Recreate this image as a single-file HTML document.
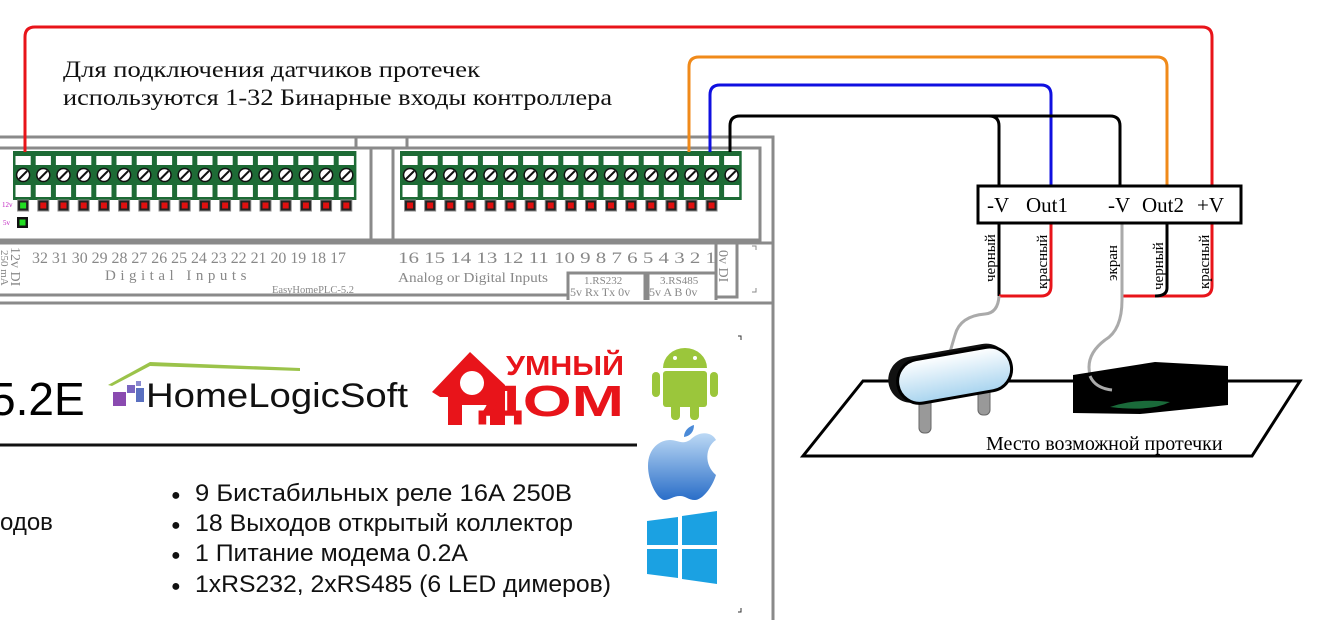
<!DOCTYPE html>
<html><head><meta charset="utf-8"><style>
html,body{margin:0;padding:0;background:#fff;width:1321px;height:620px;overflow:hidden}
svg{display:block}
.s{font-family:"Liberation Serif",serif}
.a{font-family:"Liberation Sans",sans-serif}
</style></head><body>
<svg id="d" width="1321" height="620" viewBox="0 0 1321 620" xmlns="http://www.w3.org/2000/svg">
<g fill="none" stroke="#8a8a8a" stroke-width="3">
<path d="M0 137 H773 V620"/>
<path d="M0 148 H760 V240 H0"/>
<path d="M356 137 V148 M407 137 V148"/>
<path d="M371 148 V240 M393 148 V240"/>
<path d="M0 243 H773 M0 303 H773"/>
<path d="M0 295 H568 M716 295 V298"/>
<path d="M568 300 V273 H645 V300 M648 300 V273 H716 V300"/>
<path d="M716 243 V297 H737 V243"/>
</g>
<path d="M752 246 h4 v4 M752 292 h4 v-4" stroke="#888" fill="none"/>
<g id="blocks"></g>
<g class="s" fill="#888" font-size="16">
<text x="32" y="263" textLength="314" lengthAdjust="spacingAndGlyphs">32 31 30 29 28 27 26 25 24 23 22 21 20 19 18 17</text>
<text x="398" y="263" textLength="318" lengthAdjust="spacingAndGlyphs">16 15 14 13 12 11 10  9   8   7   6   5   4   3   2   1</text>
<text x="105" y="280" font-size="15" letter-spacing="4.5">Digital Inputs</text>
<text x="398" y="282" font-size="14" textLength="150" lengthAdjust="spacingAndGlyphs">Analog or Digital Inputs</text>
<text x="272" y="293" font-size="10.5">EasyHomePLC-5.2</text>
<text x="584" y="284" font-size="11">1.RS232</text>
<text x="570" y="296" font-size="12">5v  Rx  Tx  0v</text>
<text x="660" y="284" font-size="11">3.RS485</text>
<text x="649" y="296" font-size="12">5v   A   B  0v</text>
<text transform="translate(11,247) rotate(90)" font-size="14">12v DI</text>
<text transform="translate(1,250) rotate(90)" font-size="11">250 mA</text>
<text transform="translate(719,250) rotate(90)" font-size="14">0v DI</text>
</g>
<text x="2" y="207" font-size="7" fill="#c020c0" class="s">12v</text>
<text x="3" y="225" font-size="7" fill="#c020c0" class="s">5v</text>
<rect x="17" y="217" width="11" height="11" fill="#111"/><rect x="19.5" y="219.5" width="6" height="6" fill="#2d2"/>
<text x="-10" y="415" class="a" font-size="46">5.2E</text>
<polygon points="108,385 150,362 300,368 300,371 150,366 112,386" fill="#9bc34a"/>
<rect x="113" y="392" width="13" height="14" fill="#8a4ab0"/>
<rect x="127" y="385" width="8" height="8" fill="#7a66c0"/><rect x="136" y="381" width="5" height="5" fill="#8a8ad0"/><rect x="136" y="388" width="8" height="14" fill="#5a70c0"/>
<text x="146" y="407" class="a" font-size="34" textLength="262" lengthAdjust="spacingAndGlyphs" fill="#111">HomeLogicSoft</text>
<polygon points="432,392 470,352 505,385 505,425 490,425 490,405 462,405 462,425 448,425 448,397 440,397" fill="#e8141a"/>
<circle cx="472" cy="383" r="12" fill="#fff"/>
<text x="506" y="375" class="a" font-weight="bold" font-size="28" fill="#e8141a" textLength="118" lengthAdjust="spacingAndGlyphs">УМНЫЙ</text>
<text x="478" y="416" class="a" font-weight="bold" font-size="44" fill="#e8141a" textLength="146" lengthAdjust="spacingAndGlyphs">ДОМ</text>
<line x1="0" y1="445" x2="637" y2="445" stroke="#111" stroke-width="3"/>
<g fill="#9bc63b">
<path d="M663 368 a22 20 0 0 1 44 0z"/>
<rect x="663" y="371" width="44" height="36" rx="3"/>
<rect x="652" y="372" width="8" height="25" rx="4"/><rect x="710" y="372" width="8" height="25" rx="4"/>
<rect x="671" y="400" width="9" height="20" rx="4"/><rect x="690" y="400" width="9" height="20" rx="4"/>
</g>
<circle cx="675" cy="358" r="2" fill="#fff"/><circle cx="695" cy="358" r="2" fill="#fff"/>
<defs><linearGradient id="ap" x1="0" y1="0" x2="0" y2="1"><stop offset="0" stop-color="#bcd9f5"/><stop offset="1" stop-color="#2a6ec8"/></linearGradient>
<linearGradient id="cap" x1="0" y1="0" x2="0" y2="1"><stop offset="0" stop-color="#fff"/><stop offset="1" stop-color="#a8d4ef"/></linearGradient></defs>
<path d="M690 440 C700 430 712 432 716 440 C705 447 704 465 716 475 C712 488 702 500 695 500 C688 500 686 496 680 496 C673 496 670 500 664 500 C656 498 648 480 648 466 C648 448 660 440 670 440 C678 440 682 445 690 440Z" fill="url(#ap)"/>
<path d="M684 437 C684 430 690 426 694 425 C694 432 690 436 684 437Z" fill="#4a8ad8"/>
<g fill="#1ba1e2"><polygon points="647,521 678,517 678,545 647,545"/><polygon points="682,516 717,511 717,545 682,545"/><polygon points="647,549 678,549 678,578 647,574"/><polygon points="682,549 717,549 717,584 682,579"/></g>
<path d="M738 336 h3 v4 M738 612 h3 v-4" stroke="#333" fill="none"/>
<g class="a" font-size="24" fill="#111">
<text x="0" y="530">одов</text>
<g font-size="16"><text x="171" y="500">●</text><text x="171" y="530">●</text><text x="171" y="560">●</text><text x="171" y="591">●</text></g>
<text x="195" y="501" textLength="377" lengthAdjust="spacingAndGlyphs">9  Бистабильных реле 16А 250В</text>
<text x="195" y="531" textLength="378" lengthAdjust="spacingAndGlyphs">18 Выходов открытый коллектор</text>
<text x="195" y="561" textLength="273" lengthAdjust="spacingAndGlyphs">1 Питание модема 0.2А</text>
<text x="195" y="592" textLength="416" lengthAdjust="spacingAndGlyphs">1xRS232, 2xRS485 (6 LED димеров)</text>
</g>
<g class="s" font-size="23" fill="#111">
<text x="63" y="77" textLength="417" lengthAdjust="spacingAndGlyphs">Для подключения датчиков протечек</text>
<text x="63" y="105" textLength="549" lengthAdjust="spacingAndGlyphs">используются 1-32 Бинарные входы контроллера</text>
</g>
<g fill="none" stroke-width="3">
<path d="M25 152 V37 Q25 27 35 27 H1202 Q1212 27 1212 37 V186" stroke="#e8141a"/>
<path d="M689 152 V67 Q689 57 699 57 H1157 Q1167 57 1167 67 V186" stroke="#f08a1a"/>
<path d="M710 152 V95 Q710 85 720 85 H1041 Q1051 85 1051 95 V186" stroke="#1010e0"/>
<path d="M730 152 V126 Q730 116 740 116 H1110 Q1120 116 1120 126 V186 M989 116 Q999 116 999 126 V186" stroke="#000"/>
<path d="M999 223 V296" stroke="#000"/>
<path d="M1051 223 V286 Q1051 296 1041 296 H999" stroke="#e8141a"/>
<path d="M1212 223 V286 Q1212 296 1202 296 H1122" stroke="#e8141a"/>
<path d="M1167 223 V288 Q1167 296 1155 296" stroke="#000"/>
<path d="M1122 223 V300 Q1122 330 1105 340 Q1085 355 1090 375 Q1095 388 1112 390" stroke="#aaa"/>
<path d="M999 296 Q998 313 985 314 Q960 316 955 335 L950 352" stroke="#aaa"/>
</g>
<rect x="978" y="186" width="263" height="37" fill="#fff" stroke="#000" stroke-width="3"/>
<g class="s" font-size="21" fill="#000">
<text x="987" y="212">-V</text><text x="1026" y="212">Out1</text><text x="1108" y="212">-V</text><text x="1142" y="212">Out2</text><text x="1197" y="212">+V</text>
</g>
<g class="s" font-size="15" fill="#000">
<text transform="translate(995,282) rotate(-90)">черный</text>
<text transform="translate(1047,289) rotate(-90)">красный</text>
<text transform="translate(1117,281) rotate(-90)">экран</text>
<text transform="translate(1163,290) rotate(-90)">черный</text>
<text transform="translate(1209,289) rotate(-90)">красный</text>
</g>
<polygon points="863,381 1300,381 1252,456 803,456" fill="#fff" stroke="#000" stroke-width="3"/>
<text x="986" y="450" class="s" font-size="20" fill="#000">Место возможной протечки</text>
<rect x="919" y="385" width="12" height="48" rx="5" fill="#999" stroke="#666"/>
<rect x="978" y="380" width="12" height="35" rx="5" fill="#999" stroke="#666"/>
<g transform="rotate(-10 950 375)">
<rect x="888" y="350" width="122" height="46" rx="23" fill="#111"/>
<rect x="897" y="354" width="115" height="44" rx="22" fill="url(#cap)" stroke="#000" stroke-width="3"/>
</g>
<polygon points="1073,375 1155,362 1228,366 1228,405 1140,414 1073,413" fill="#000"/>
<path d="M1110 407 Q1135 398 1170 402 Q1150 412 1110 407Z" fill="#1a6a3a"/>
<path d="M1090 376 Q1095 388 1112 390" stroke="#aaa" stroke-width="3" fill="none"/>
</svg>
<script>
(function(){
var g=document.getElementById('blocks'),h='';
function blk(x0,n,pitch,leds,green){
 var w=n*pitch;
 h+='<rect x="'+x0+'" y="151" width="'+w+'" height="49" fill="#1d6b35"/>';
 for(var i=0;i<n;i++){var x=x0+i*pitch;
  h+='<rect x="'+(x+2.5)+'" y="156" width="'+(pitch-5)+'" height="9" fill="#fff"/>';
  h+='<rect x="'+(x+2.5)+'" y="185" width="'+(pitch-5)+'" height="12" fill="#fff"/>';
  var cx=x+pitch/2;
  h+='<circle cx="'+cx+'" cy="175" r="6.5" fill="#fff" stroke="#111" stroke-width="1.5"/>';
  h+='<line x1="'+(cx-4)+'" y1="179" x2="'+(cx+4)+'" y2="171" stroke="#111" stroke-width="2"/>';
  if(i<leds){
   h+='<rect x="'+(cx-5.5)+'" y="200" width="11" height="11" fill="#222" stroke="#888"/><rect x="'+(cx-3)+'" y="202.5" width="6" height="6" fill="'+(i==0&&green?'#2d2':'#e01010')+'"/>';
  }
 }
}
blk(13,17,20.2,17,true);
blk(400,17,20.1,16,false);
g.innerHTML=h;
})();
</script>
</body></html>
